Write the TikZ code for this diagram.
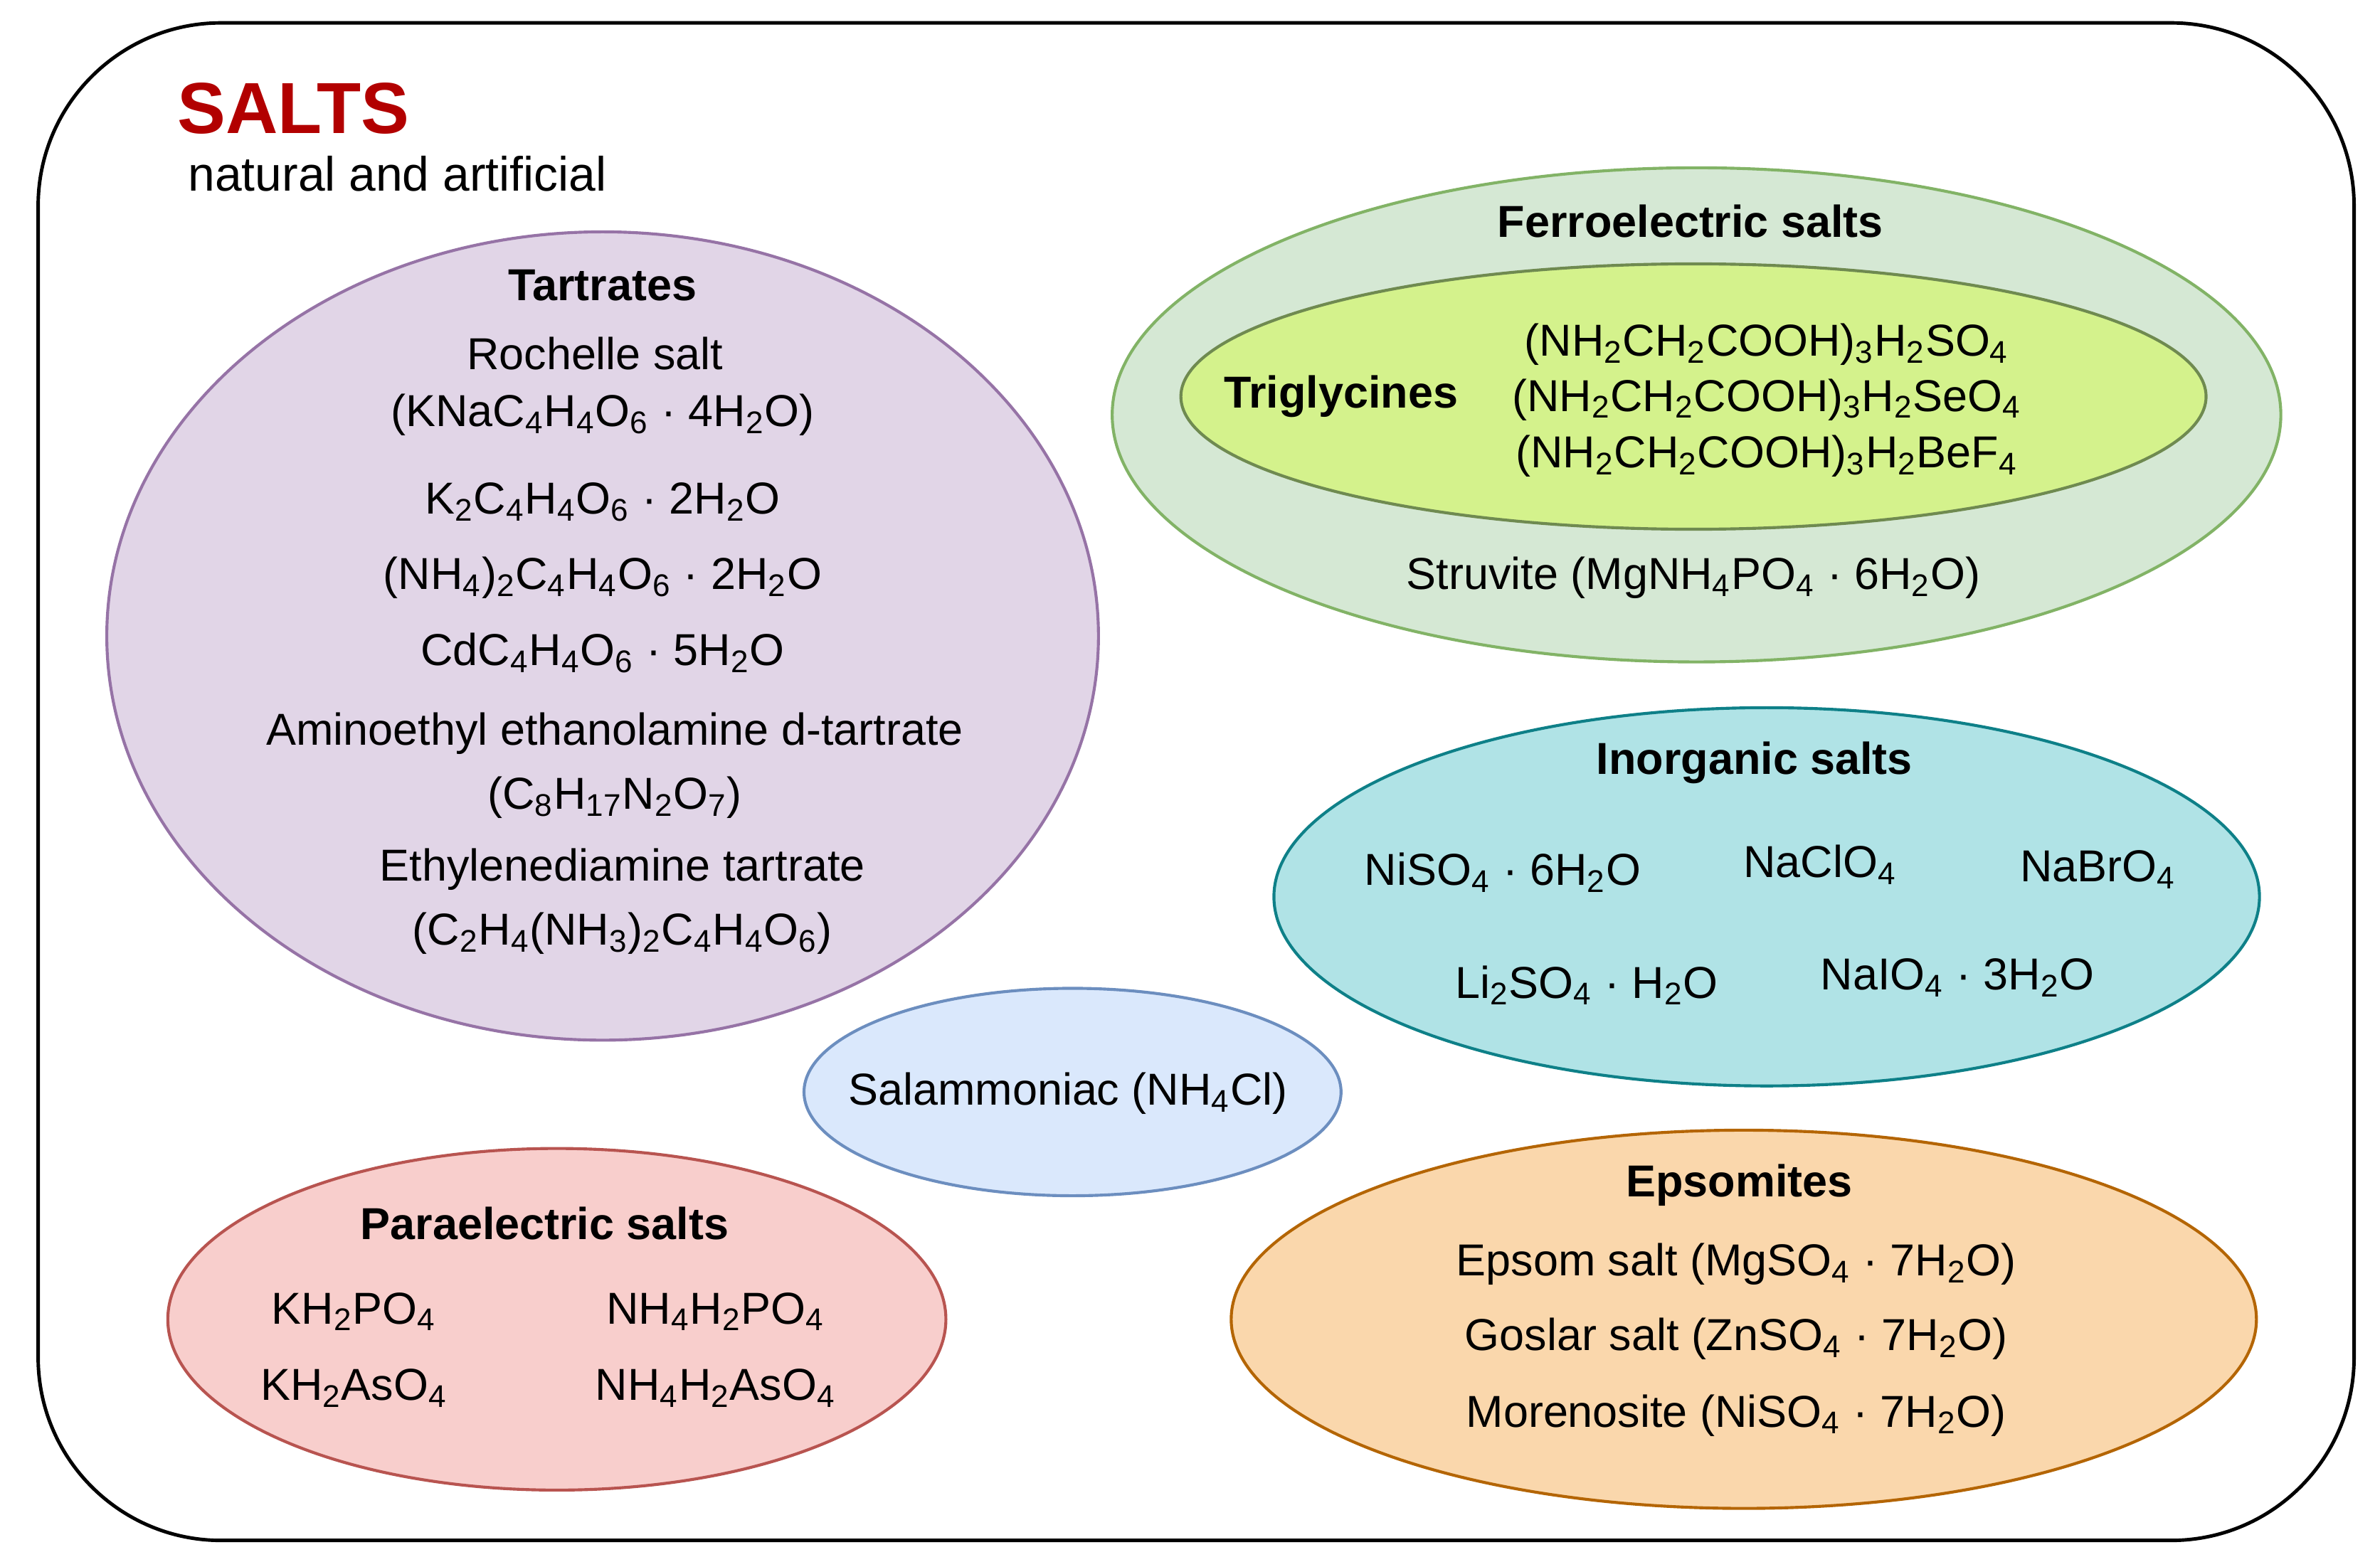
\documentclass[tikz,border=0pt]{standalone}
\usepackage{fontspec}
\setmainfont{Liberation Sans}
\definecolor{tartF}{HTML}{E1D5E7}\definecolor{tartS}{HTML}{9673A6}
\definecolor{ferF}{HTML}{D5E8D4}\definecolor{ferS}{HTML}{82B366}
\definecolor{triF}{HTML}{D4F28C}\definecolor{triS}{HTML}{6F8A50}
\definecolor{inoF}{HTML}{B0E3E6}\definecolor{inoS}{HTML}{0E8088}
\definecolor{salF}{HTML}{DAE8FC}\definecolor{salS}{HTML}{6C8EBF}
\definecolor{parF}{HTML}{F8CECC}\definecolor{parS}{HTML}{B85450}
\definecolor{epsF}{HTML}{FAD7AC}\definecolor{epsS}{HTML}{B46504}
\definecolor{titleC}{HTML}{B20000}
\newcommand{\sbs}[1]{\textsubscript{#1}}
\begin{document}
\begin{tikzpicture}[x=0.02cm,y=-0.02cm,
  t/.style={font=\fontsize{16.7}{19}\selectfont, inner sep=0pt},
  b/.style={t, font=\fontsize{16.7}{19}\selectfont\bfseries},
  el/.style={line width=1.1pt}]
\useasboundingbox (0,0) rectangle (1560,1024);
\draw[line width=1.3pt, rounded corners=2.4cm] (25,15) rectangle (1543,1010);
\node[anchor=west, text=titleC, font=\fontsize{27}{30}\selectfont\bfseries, inner sep=0pt] (title) at (116,71) {SALTS};
\node[anchor=west, t, font=\fontsize{18}{21}\selectfont] (sub) at (123,114) {natural and artificial};

\draw[el, draw=tartS, fill=tartF] (395,417) ellipse [x radius=325, y radius=265];
\draw[el, draw=ferS, fill=ferF] (1112,272) ellipse [x radius=383, y radius=162];
\draw[el, draw=triS, fill=triF] (1110,260) ellipse [x radius=336, y radius=87];
\draw[el, draw=inoS, fill=inoF] (1158,588) ellipse [x radius=323, y radius=124];
\draw[el, draw=salS, fill=salF] (703,716) ellipse [x radius=176, y radius=68];
\draw[el, draw=parS, fill=parF] (365,865) ellipse [x radius=255, y radius=112];
\draw[el, draw=epsS, fill=epsF] (1143,865) ellipse [x radius=336, y radius=124];

\node[b] (tart) at (395,187) {Tartrates};
\node[t] (t1) at (390,232) {Rochelle salt};
\node[t] (t2) at (395,272) {(KNaC\sbs{4}H\sbs{4}O\sbs{6} · 4H\sbs{2}O)};
\node[t] (t3) at (395,329) {K\sbs{2}C\sbs{4}H\sbs{4}O\sbs{6} · 2H\sbs{2}O};
\node[t] (t4) at (395,379) {(NH\sbs{4})\sbs{2}C\sbs{4}H\sbs{4}O\sbs{6} · 2H\sbs{2}O};
\node[t] (t5) at (395,428) {CdC\sbs{4}H\sbs{4}O\sbs{6} · 5H\sbs{2}O};
\node[t] (t6) at (403,481) {Aminoethyl ethanolamine d-tartrate};
\node[t] (t7) at (403,523) {(C\sbs{8}H\sbs{17}N\sbs{2}O\sbs{7})};
\node[t] (t8) at (408,570) {Ethylenediamine tartrate};
\node[t] (t9) at (408,612) {(C\sbs{2}H\sbs{4}(NH\sbs{3})\sbs{2}C\sbs{4}H\sbs{4}O\sbs{6})};

\node[b] (ferro) at (1108,145) {Ferroelectric salts};
\node[b] (trig) at (879,260) {Triglycines};
\node[t] (g1) at (1158,226) {(NH\sbs{2}CH\sbs{2}COOH)\sbs{3}H\sbs{2}SO\sbs{4}};
\node[t] (g2) at (1158,262) {(NH\sbs{2}CH\sbs{2}COOH)\sbs{3}H\sbs{2}SeO\sbs{4}};
\node[t] (g3) at (1158,299) {(NH\sbs{2}CH\sbs{2}COOH)\sbs{3}H\sbs{2}BeF\sbs{4}};
\node[t] (stru) at (1110,379) {Struvite (MgNH\sbs{4}PO\sbs{4} · 6H\sbs{2}O)};

\node[b] (inorg) at (1150,500) {Inorganic salts};
\node[t] (i1) at (985,572) {NiSO\sbs{4} · 6H\sbs{2}O};
\node[t] (i2) at (1193,567) {NaClO\sbs{4}};
\node[t] (i3) at (1375,570) {NaBrO\sbs{4}};
\node[t] (i4) at (1040,646) {Li\sbs{2}SO\sbs{4} · H\sbs{2}O};
\node[t] (i5) at (1283,641) {NaIO\sbs{4} · 3H\sbs{2}O};

\node[t] (sal) at (700,717) {Salammoniac (NH\sbs{4}Cl)};

\node[b] (para) at (357,802) {Paraelectric salts};
\node[t] (p1) at (232,860) {KH\sbs{2}PO\sbs{4}};
\node[t] (p2) at (469,860) {NH\sbs{4}H\sbs{2}PO\sbs{4}};
\node[t] (p3) at (232,910) {KH\sbs{2}AsO\sbs{4}};
\node[t] (p4) at (469,910) {NH\sbs{4}H\sbs{2}AsO\sbs{4}};

\node[b] (eps) at (1140,777) {Epsomites};
\node[t] (e1) at (1138,829) {Epsom salt (MgSO\sbs{4} · 7H\sbs{2}O)};
\node[t] (e2) at (1138,878) {Goslar salt (ZnSO\sbs{4} · 7H\sbs{2}O)};
\node[t] (e3) at (1138,928) {Morenosite (NiSO\sbs{4} · 7H\sbs{2}O)};
\end{tikzpicture}
\end{document}
